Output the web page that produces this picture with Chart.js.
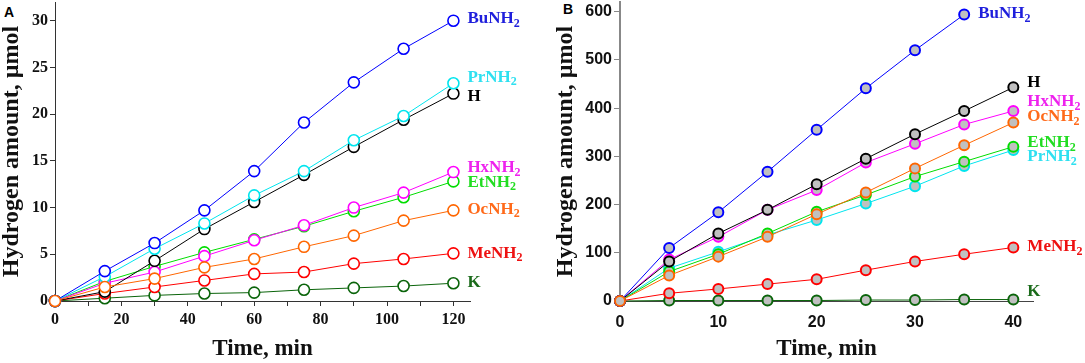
<!DOCTYPE html>
<html>
<head>
<meta charset="utf-8">
<script src="https://cdn.jsdelivr.net/npm/chart.js@4.4.1/dist/chart.umd.min.js"></script>
<style>
  body { margin: 0; background: #fff; width: 1085px; height: 363px; position: relative; overflow: hidden; }
  canvas { position: absolute; top: 0; }
  .panel { position: absolute; font: bold 14px "Liberation Sans", Arial, sans-serif; line-height: 14px; color: #000; }
</style>
</head>
<body>
<div class="panel" style="left:4px; top:5px;">A</div>
<div class="panel" style="left:563px; top:2px;">B</div>
<canvas id="chartA" width="545" height="363" style="left:0px;"></canvas>
<canvas id="chartB" width="540" height="363" style="left:545px;"></canvas>
<script>
// panel A: time in min, hydrogen in umol
const timesA = [0, 15, 30, 45, 60, 75, 90, 105, 120];
const buA = [0, 3.2, 6.2, 9.7, 13.9, 19.1, 23.4, 27.0, 30.0];
const prA = [0, 2.6, 5.6, 8.3, 11.3, 13.9, 17.2, 19.8, 23.3];
const hA  = [0, 1.0, 4.3, 7.7, 10.6, 13.5, 16.5, 19.4, 22.2];
const hxA = [0, 1.9, 3.1, 4.8, 6.5, 8.1, 10.0, 11.6, 13.8];
const etA = [0, 2.1, 3.7, 5.2, 6.6, 8.0, 9.6, 11.1, 12.8];
const ocA = [0, 1.5, 2.4, 3.6, 4.5, 5.8, 7.0, 8.6, 9.7];
const meA = [0, 0.8, 1.5, 2.2, 2.9, 3.1, 4.0, 4.5, 5.1];
const kA  = [0, 0.3, 0.6, 0.8, 0.9, 1.2, 1.4, 1.6, 1.9];

// panel B
const timesB = [0, 5, 10, 15, 20, 25, 30, 35, 40];
const buB = [0, 110, 184, 268, 355, 441, 520, 594];
const hB  = [0, 82, 140, 189, 242, 295, 346, 394, 443];
const hxB = [0, 86, 133, 189, 230, 287, 326, 366, 394];
const ocB = [0, 53, 92, 133, 180, 225, 275, 323, 370];
const etB = [0, 61, 97, 140, 185, 220, 258, 289, 320];
const prB = [0, 68, 102, 137, 168, 202, 238, 280, 313];
const meB = [0, 16, 25, 35, 45, 64, 82, 97, 111];
const kB  = [0, 1, 1, 1, 1, 2, 2, 3, 3];

const yTicksA = [0, 5, 10, 15, 20, 25, 30];
const xTicksA = [0, 10, 20, 30, 40, 50, 60, 70, 80, 90, 100, 110, 120];
const xLabelsA = [0, 20, 40, 60, 80, 100, 120];
const yTicksB = [0, 100, 200, 300, 400, 500, 600];
const xTicksB = [0, 10, 20, 30, 40];

const serif = '"Liberation Serif", "Times New Roman", serif';
const sans = '"Liberation Sans", Arial, sans-serif';

// line colour, label colour per species
const colors = {
    BuNH2: ['#0000ff', '#1f1fdc'],
    PrNH2: ['#00e5ee', '#2ee0f0'],
    H:     ['#000000', '#000000'],
    HxNH2: ['#ff00ff', '#ee22ee'],
    EtNH2: ['#00dd00', '#22dd22'],
    OcNH2: ['#ff6600', '#ff6a1a'],
    MeNH2: ['#ff0000', '#ee1111'],
    K:     ['#0a640a', '#1b6b1b'],
};

function pts(times, vals) { return vals.map((v, i) => ({ x: times[i], y: v })); }

function makeSet(name, times, vals, fill, dy, order) {
    return {
        label: name,
        data: pts(times, vals),
        borderColor: colors[name][0],
        labelColor: colors[name][1],
        labelDy: dy,
        borderWidth: 1,
        pointRadius: fill === '#ffffff' ? 5.5 : 5,
        pointBorderWidth: fill === '#ffffff' ? 1.6 : 2,
        pointBackgroundColor: fill,
        pointBorderColor: colors[name][0],
        clip: false,
        order: order,
    };
}

// draws the name at the end of each curve, digits as subscript
const endLabels = {
    id: 'endLabels',
    afterDatasetsDraw(chart) {
        const ctx = chart.ctx;
        chart.data.datasets.forEach((ds, i) => {
            const meta = chart.getDatasetMeta(i);
            const last = meta.data[meta.data.length - 1];
            let x = last.x + 14;
            const y = last.y + ds.labelDy;
            ctx.save();
            ctx.fillStyle = ds.labelColor;
            ctx.textBaseline = 'middle';
            ctx.textAlign = 'left';
            ds.label.match(/\d+|\D+/g).forEach(part => {
                const sub = /\d/.test(part);
                ctx.font = sub ? 'bold 12px ' + serif : 'bold 17px ' + serif;
                ctx.fillText(part, x, sub ? y + 5 : y);
                x += ctx.measureText(part).width;
            });
            ctx.restore();
        });
    }
};

// use exactly the listed tick values
function setTicks(list) {
    return scale => { scale.ticks = list.map(v => ({ value: v })); };
}

// fixed width for the y axis, no extra label padding at the top
function fitY(width) {
    return s => { s.width = width; s.paddingTop = 0; s.paddingBottom = 0; };
}

const datasetsA = [
    makeSet('OcNH2', timesA, ocA, '#ffffff', -1, 0),
    makeSet('BuNH2', timesA, buA, '#ffffff', -2, 1),
    makeSet('PrNH2', timesA, prA, '#ffffff', -6, 1),
    makeSet('H', timesA, hA, '#ffffff', 3, 1),
    makeSet('HxNH2', timesA, hxA, '#ffffff', -4, 1),
    makeSet('EtNH2', timesA, etA, '#ffffff', 1, 1),
    makeSet('MeNH2', timesA, meA, '#ffffff', 0, 1),
    makeSet('K', timesA, kA, '#ffffff', -1, 1),
];

new Chart(document.getElementById('chartA'), {
    type: 'line',
    data: { datasets: datasetsA },
    options: {
        responsive: false,
        animation: false,
        layout: { autoPadding: false, padding: { left: 0, right: 75, top: 2, bottom: 2 } },
        plugins: { legend: { display: false }, tooltip: { enabled: false } },
        scales: {
            x: {
                type: 'linear', position: 'bottom', min: 0, max: 125,
                afterFit: s => { s.height = 60; },
                afterBuildTicks: setTicks(xTicksA),
                grid: { drawOnChartArea: false, tickLength: 5, color: '#333' },
                border: { color: '#333', width: 1 },
                ticks: {
                    autoSkip: false, maxRotation: 0, padding: 4, color: '#111',
                    font: { family: serif, size: 16, weight: 'bold' },
                    callback: v => xLabelsA.includes(v) ? v : '',
                },
                title: { display: true, text: 'Time, min', color: '#111', padding: 0,
                         font: { family: serif, size: 23, weight: 'bold', lineHeight: 1 } },
            },
            y: {
                min: 0, max: 32,
                afterFit: fitY(55),
                afterBuildTicks: setTicks(yTicksA),
                grid: { drawOnChartArea: false, tickLength: 5, color: '#333' },
                border: { color: '#333', width: 1 },
                ticks: { autoSkip: false, padding: 2, color: '#111',
                         font: { family: serif, size: 16, weight: 'bold' } },
                title: { display: true, text: 'Hydrogen amount, µmol', color: '#111', padding: 0,
                         font: { family: serif, size: 24, weight: 'bold', lineHeight: 1 } },
            },
        },
    },
    plugins: [endLabels],
});

const datasetsB = [
    makeSet('OcNH2', timesB, ocB, '#c0c0c0', -6, 0),
    makeSet('BuNH2', timesB, buB, '#c0c0c0', -1, 1),
    makeSet('H', timesB, hB, '#c0c0c0', -5, 1),
    makeSet('HxNH2', timesB, hxB, '#c0c0c0', -9, 1),
    makeSet('EtNH2', timesB, etB, '#c0c0c0', -4, 1),
    makeSet('PrNH2', timesB, prB, '#c0c0c0', 7, 1),
    makeSet('MeNH2', timesB, meB, '#c0c0c0', -1, 1),
    makeSet('K', timesB, kB, '#c0c0c0', -8, 1),
];

new Chart(document.getElementById('chartB'), {
    type: 'line',
    data: { datasets: datasetsB },
    options: {
        responsive: false,
        animation: false,
        layout: { autoPadding: false, padding: { left: 9, right: 52, top: 2, bottom: 2 } },
        plugins: { legend: { display: false }, tooltip: { enabled: false } },
        scales: {
            x: {
                type: 'linear', position: 'bottom', min: 0, max: 42,
                afterFit: s => { s.height = 60; },
                afterBuildTicks: setTicks(xTicksB),
                grid: { display: false },
                border: { display: true, color: '#444', width: 1 },
                ticks: { autoSkip: false, maxRotation: 0, padding: 4, color: '#111',
                         font: { family: sans, size: 16, weight: 'bold' } },
                title: { display: true, text: 'Time, min', color: '#111', padding: 0,
                         font: { family: serif, size: 23, weight: 'bold', lineHeight: 1 } },
            },
            y: {
                min: 0, max: 620,
                afterFit: fitY(66),
                afterBuildTicks: setTicks(yTicksB),
                grid: { drawOnChartArea: false, tickLength: 6, color: '#888' },
                border: { color: '#888', width: 2 },
                ticks: { autoSkip: false, padding: 2, color: '#111',
                         font: { family: sans, size: 16, weight: 'bold' } },
                title: { display: true, text: 'Hydrogen amount, µmol', color: '#111', padding: 0,
                         font: { family: serif, size: 24, weight: 'bold', lineHeight: 1 } },
            },
        },
    },
    plugins: [endLabels],
});
</script>
</body>
</html>
